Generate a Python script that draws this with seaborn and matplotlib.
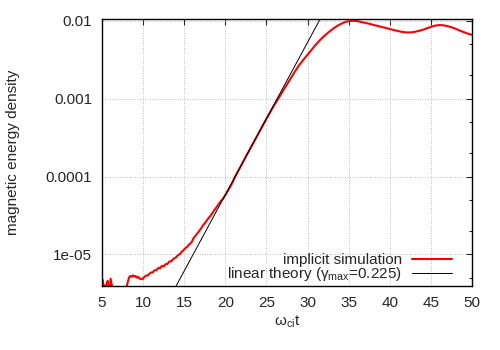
import numpy as np
import pandas as pd
import seaborn as sns
import matplotlib
matplotlib.use('Agg')
import matplotlib.pyplot as plt
from matplotlib.ticker import FixedLocator, FixedFormatter, LogLocator, NullFormatter

# implicit simulation, values
sim_t = [5.0, 5.1, 5.2, 5.35, 5.5, 5.6, 5.7, 5.8, 5.95, 6.05, 6.15, 6.3, 6.8, 7.4, 7.9,
         8.1, 8.3, 8.45, 8.6, 8.75, 8.9, 9.05, 9.2, 9.35, 9.5, 9.65, 9.8, 9.95,
         10.1, 10.25, 10.4, 10.55, 10.7, 10.85, 11.0, 11.15, 11.3, 11.45, 11.6, 11.75, 11.9,
         12.05, 12.2, 12.35, 12.5, 12.65, 12.8, 12.95, 13.1, 13.25, 13.4, 13.55, 13.7, 13.85,
         14.0, 14.15, 14.3, 14.45, 14.6, 14.75, 14.9, 15.05, 15.2, 15.35, 15.5, 15.65, 15.8, 15.95,
         16.1, 16.3, 16.5, 16.7, 16.9, 17.1, 17.3, 17.5, 17.7, 17.9, 18.1, 18.3, 18.5, 18.7, 18.9,
         19.1, 19.3, 19.5, 19.75, 20.0, 20.4, 20.8, 21.2, 21.6, 22.0, 22.5, 23.0, 23.5, 24.0, 24.5,
         25.0, 25.5, 26.0, 26.5, 27.0, 27.5, 28.0, 28.5, 29.0, 29.5, 30.0, 30.5, 31.0, 31.5,
         32.0, 32.5, 33.0, 33.5, 34.0, 34.5, 35.0, 35.5, 36.0, 36.5, 37.0, 37.5, 38.0, 38.5,
         39.0, 39.5, 40.0, 40.5, 41.0, 41.5, 42.0, 42.5, 43.0, 43.5, 44.0, 44.5, 45.0, 45.5,
         46.0, 46.5, 47.0, 47.5, 48.0, 48.5, 49.0, 49.5, 50.0]
sim_energy = [3.7e-6, 4.7e-6, 3.8e-6, 4.0e-6, 3.6e-6, 4.4e-6, 4.6e-6, 3.7e-6, 3.5e-6, 4.9e-6, 4.3e-6, 3.5e-6, 3.0e-6, 2.9e-6, 3.3e-6,
              4.3e-6, 5.1e-6, 5.3e-6, 5.15e-6, 5.4e-6, 5.25e-6, 5.3e-6, 5.05e-6, 5.2e-6, 5.0e-6, 4.85e-6, 4.9e-6, 4.8e-6,
              5.1e-6, 5.25e-6, 5.4e-6, 5.35e-6, 5.6e-6, 5.75e-6, 5.9e-6, 5.85e-6, 6.15e-6, 6.3e-6, 6.25e-6, 6.55e-6, 6.75e-6,
              6.65e-6, 7.0e-6, 7.15e-6, 7.0e-6, 7.35e-6, 7.6e-6, 7.55e-6, 7.9e-6, 8.2e-6, 8.1e-6, 8.5e-6, 8.8e-6, 9.0e-6,
              9.2e-6, 9.6e-6, 9.9e-6, 1.01e-5, 1.05e-5, 1.1e-5, 1.13e-5, 1.18e-5, 1.22e-5, 1.25e-5, 1.31e-5, 1.36e-5, 1.4e-5, 1.47e-5,
              1.6e-5, 1.7e-5, 1.8e-5, 1.92e-5, 2.05e-5, 2.2e-5, 2.38e-5, 2.52e-5, 2.7e-5, 2.88e-5, 3.05e-5, 3.25e-5, 3.5e-5, 3.75e-5, 4.0e-5,
              4.3e-5, 4.6e-5, 4.9e-5, 5.25e-5, 5.8e-5, 6.8e-5, 8.1e-5, 1.0e-4, 1.2e-4, 1.45e-4, 1.8e-4, 2.25e-4, 2.8e-4, 3.5e-4, 4.4e-4,
              5.5e-4, 6.8e-4, 8.4e-4, 1.02e-3, 1.25e-3, 1.52e-3, 1.85e-3, 2.25e-3, 2.7e-3, 3.15e-3, 3.65e-3, 4.25e-3, 4.9e-3, 5.6e-3,
              6.3e-3, 7.0e-3, 7.7e-3, 8.4e-3, 9.0e-3, 9.5e-3, 9.85e-3, 9.95e-3, 9.85e-3, 9.6e-3, 9.35e-3, 9.1e-3, 8.8e-3, 8.55e-3,
              8.3e-3, 8.05e-3, 7.8e-3, 7.55e-3, 7.35e-3, 7.15e-3, 7.05e-3, 7.05e-3, 7.15e-3, 7.35e-3, 7.6e-3, 7.95e-3, 8.3e-3, 8.6e-3,
              8.75e-3, 8.7e-3, 8.5e-3, 8.2e-3, 7.85e-3, 7.45e-3, 7.1e-3, 6.8e-3, 6.55e-3]

# linear theory, straight line on the log plot (two end points)
theory_t = [13.9, 31.8]
theory_energy = [3.75e-6, 1.18e-2]

x_ticks = [5, 10, 15, 20, 25, 30, 35, 40, 45, 50]
y_ticks = [1e-5, 1e-4, 1e-3, 1e-2]
y_tick_labels = ['1e-05', '0.0001', '0.001', '0.01']

sim_df = pd.DataFrame({'t': sim_t, 'E': sim_energy})
theory_df = pd.DataFrame({'t': theory_t, 'E': theory_energy})

sns.set_style('white')
plt.rcParams['font.family'] = ['Liberation Sans', 'DejaVu Sans']
plt.rcParams['mathtext.fontset'] = 'custom'
plt.rcParams['mathtext.rm'] = 'Liberation Sans'
plt.rcParams['mathtext.it'] = 'Liberation Sans:italic'

fig, ax = plt.subplots(figsize=(5, 3.5), dpi=100)
fig.subplots_adjust(left=0.204, right=0.944, top=0.946, bottom=0.183)

sns.lineplot(data=sim_df, x='t', y='E', ax=ax, color='#ff0000', linewidth=1.5,
             estimator=None, sort=False, label='implicit simulation')
sns.lineplot(data=theory_df, x='t', y='E', ax=ax, color='black', linewidth=0.7,
             estimator=None, sort=False, label=r'linear theory (γ$_{\mathrm{max}}$=0.225)')

ax.set_yscale('log')
ax.set_xlim(5, 50)
ax.set_ylim(3.95e-6, 0.0105)

ax.xaxis.set_major_locator(FixedLocator(x_ticks))
ax.yaxis.set_major_locator(FixedLocator(y_ticks))
ax.yaxis.set_major_formatter(FixedFormatter(y_tick_labels))
ax.yaxis.set_minor_locator(LogLocator(base=10, subs=(2.0, 5.0)))
ax.yaxis.set_minor_formatter(NullFormatter())

ax.tick_params(which='both', direction='in', top=True, right=True, labelsize=11, width=0.8)
ax.tick_params(which='major', length=4.3, pad=7)
ax.tick_params(which='minor', length=2.2)

ax.grid(which='major', color='#a8a8a8', linestyle=(0, (1, 2)), linewidth=0.6)
ax.set_axisbelow(True)
for sp in ax.spines.values():
    sp.set_color('black')
    sp.set_linewidth(1.0)

ax.set_xlabel(r'ω$_{\mathrm{ci}}$t', fontsize=11)
ax.set_ylabel('magnetic energy density', fontsize=11)
ax.xaxis.set_label_coords(0.5, -0.105)
ax.yaxis.set_label_coords(-0.222, 0.5)

ax.legend(loc='lower right', bbox_to_anchor=(0.97, -0.025), frameon=False, markerfirst=False,
          fontsize=11, handlelength=2.6, handletextpad=0.65, labelspacing=-0.1, borderaxespad=0.2)

plt.savefig('out.png', dpi=100)
